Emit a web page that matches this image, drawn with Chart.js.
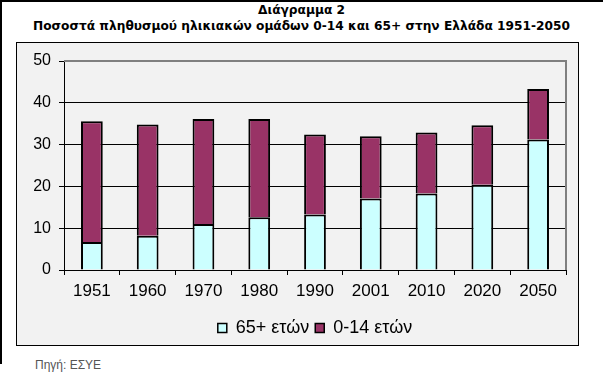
<!DOCTYPE html>
<html>
<head>
<meta charset="utf-8">
<script src="https://cdn.jsdelivr.net/npm/chart.js@4"></script>
<style>
  body { margin: 0; width: 603px; height: 385px; background: #fff; position: relative; overflow: hidden; }
  #frame { position: absolute; left: 0; top: 0; width: 603px; height: 364px; border-left: 2px solid #000; border-top: 2px solid #000; box-sizing: border-box; }
  .titulo { position: absolute; left: 0; width: 603px; text-align: center; font: bold 12.2px "DejaVu Sans", sans-serif; color: #000; }
  #caixa { position: absolute; left: 16px; top: 42px; width: 563px; height: 304px; border: 1px solid #000; background: #f2f2f2; box-sizing: border-box; overflow: hidden; }
  #caixa canvas { position: absolute; left: 0; top: 0; }
  #fonte { position: absolute; left: 35px; top: 358px; font: 12px "Liberation Sans", Arial, sans-serif; color: #555; }
</style>
</head>
<body>
<div id="frame"></div>
<div class="titulo" style="top:3px">Διάγραμμα 2</div>
<div class="titulo" style="top:19px">Ποσοστά πληθυσμού ηλικιακών ομάδων 0-14 και 65+ στην Ελλάδα 1951-2050</div>
<div id="caixa"><canvas id="meuGrafico" width="561" height="304"></canvas></div>
<div id="fonte">Πηγή: ΕΣΥΕ</div>
<script>
// Dados do gráfico
var anos = ['1951', '1960', '1970', '1980', '1990', '2001', '2010', '2020', '2050'];
var idosos = [6.7, 8.2, 11.0, 12.6, 13.3, 17.1, 18.3, 20.4, 31.2];   // 65+ ετών
var jovens = [28.9, 26.6, 25.1, 23.5, 19.1, 14.9, 14.6, 14.2, 12.1]; // 0-14 ετών
var ticksY = [0, 10, 20, 30, 40, 50];

var familia = '"Liberation Sans", Arial, sans-serif';

// Borda cinza em cima e à direita da área do gráfico
var bordaPlot = {
    id: 'bordaPlot',
    afterDatasetsDraw: function(chart) {
        var a = chart.chartArea;
        var c = chart.ctx;
        c.save();
        c.strokeStyle = '#808080';
        c.lineWidth = 2;
        c.beginPath();
        c.moveTo(a.left, a.top);
        c.lineTo(a.right, a.top);
        c.lineTo(a.right, a.bottom);
        c.stroke();
        c.restore();
    }
};

var contexto = document.getElementById('meuGrafico').getContext('2d');
var meuGrafico = new Chart(contexto, {
    type: 'bar',
    data: {
        labels: anos,
        datasets: [{
            label: '65+ ετών',
            data: idosos,
            backgroundColor: '#ccffff',
            borderColor: '#000',
            borderWidth: 2
        }, {
            label: '0-14 ετών',
            data: jovens,
            backgroundColor: '#993366',
            borderColor: '#000',
            borderWidth: 2
        }]
    },
    options: {
        responsive: false,
        animation: false,
        layout: { padding: { top: 18, right: 12, left: 0, bottom: 0 } },
        datasets: { bar: { barPercentage: 0.39, categoryPercentage: 1 } },
        scales: {
            x: {
                stacked: true,
                ticks: { color: '#000', font: { family: familia, size: 17 }, padding: 6 },
                grid: { drawOnChartArea: false, color: '#000', tickLength: 5 },
                border: { color: '#000', width: 1 },
                afterFit: function(s) { s.height = 43; }
            },
            y: {
                stacked: true,
                min: 0,
                max: 50,
                afterBuildTicks: function(s) { s.ticks = ticksY.map(function(v) { return { value: v }; }); },
                ticks: { color: '#000', font: { family: familia, size: 16 }, padding: 8 },
                grid: {
                    color: function(ctx) { return ctx.tick && ctx.tick.value === 50 ? 'rgba(0,0,0,0)' : '#000'; },
                    tickLength: 5,
                    tickColor: '#000'
                },
                border: { color: '#000', width: 1 },
                afterFit: function(s) { s.width = 47; }
            }
        },
        plugins: {
            legend: {
                position: 'bottom',
                fullSize: false,
                labels: {
                    color: '#000',
                    font: { family: familia, size: 18 },
                    boxWidth: 9,
                    boxHeight: 9,
                    padding: 6,
                    generateLabels: function(chart) {
                        var itens = Chart.defaults.plugins.legend.labels.generateLabels(chart);
                        itens.forEach(function(i) { i.lineWidth = 1.5; });
                        return itens;
                    }
                }
            },
            tooltip: { enabled: false }
        }
    },
    plugins: [bordaPlot]
});
</script>
</body>
</html>
